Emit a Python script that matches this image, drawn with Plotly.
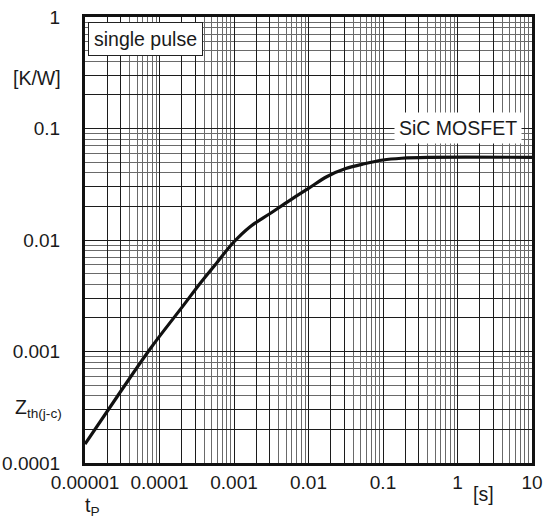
import plotly.graph_objects as go

# Transient thermal impedance Zth(j-c) of the SiC MOSFET, single pulse
pulse_time_s = [1e-5, 2.71e-5, 7.6e-5, 2.12e-4, 3.48e-4, 5.82e-4, 9.73e-4,
                1.63e-3, 3.02e-3, 5.62e-3, 0.01, 0.0178, 0.0316, 0.0562,
                0.1, 0.178, 0.398, 10]
zth_kw = [1.48e-4, 3.95e-4, 1.07e-3, 2.62e-3, 4.06e-3, 6.20e-3, 9.45e-3,
          0.0131, 0.0172, 0.0227, 0.0290, 0.0371, 0.0437, 0.0483,
          0.0522, 0.0541, 0.0551, 0.0551]

x_tick_vals = [1e-5, 1e-4, 1e-3, 1e-2, 1e-1, 1, 10]
x_tick_text = ["0.00001", "0.0001", "0.001", "0.01", "0.1", "1", "10"]
y_tick_vals = [1e-4, 1e-3, 1e-2, 1e-1, 1]
y_tick_text = ["0.0001", "0.001", "0.01", "0.1", "1"]

FONT = "Liberation Sans, Arial, sans-serif"
W, H = 556, 522
ML, MR, MT, MB = 85, 24, 17, 59
PW, PH = W - ML - MR, H - MT - MB


def with_heavy_lines(vals, text):
    """Decade lines plus the 2x and 3x lines, all drawn dark; only decades labelled."""
    v, t = [], []
    for val, lab in zip(vals, text):
        v.append(val)
        t.append(lab)
        for m in (2, 3):
            if val * m < vals[-1]:
                v.append(val * m)
                t.append("")
    return v, t


def light_lines(lo_exp, hi_exp):
    return [m * 10.0 ** e for e in range(lo_exp, hi_exp) for m in range(4, 10)]


def px(x):
    return (x - ML) / PW


def py(y):
    return (H - MB - y) / PH


fig = go.Figure()
fig.add_trace(go.Scatter(
    x=pulse_time_s, y=zth_kw, mode="lines",
    line=dict(color="#111111", width=3.2, shape="spline", smoothing=1.0),
    showlegend=False, hoverinfo="skip",
))

grid_dark = "#1c1c1c"
grid_light = "#6a6a6a"

xv, xt = with_heavy_lines(x_tick_vals, x_tick_text)
yv, yt = with_heavy_lines(y_tick_vals, y_tick_text)

fig.update_xaxes(
    type="log", range=[-5, 1], automargin=False,
    tickvals=xv, ticktext=xt,
    showgrid=True, gridcolor=grid_dark, gridwidth=1.1,
    minor=dict(tickvals=light_lines(-5, 1), showgrid=True,
               gridcolor=grid_light, gridwidth=1.1),
    showline=True, linecolor="#111111", linewidth=3, mirror=True,
    ticks="", ticklen=0, ticklabelstandoff=0,
    tickfont=dict(family=FONT, size=19, color="#1a1a1a"),
    zeroline=False,
)
fig.update_yaxes(
    type="log", range=[-4, 0], automargin=False,
    tickvals=yv, ticktext=yt,
    showgrid=True, gridcolor=grid_dark, gridwidth=1.1,
    minor=dict(tickvals=light_lines(-4, 0), showgrid=True,
               gridcolor=grid_light, gridwidth=1.1),
    showline=True, linecolor="#111111", linewidth=3, mirror=True,
    ticks="", ticklen=0, ticklabelstandoff=18,
    tickfont=dict(family=FONT, size=19, color="#1a1a1a"),
    zeroline=False,
)

txt = dict(family=FONT, size=19.5, color="#1a1a1a")
annotations = [
    dict(text="single pulse", x=px(88), y=py(22), xanchor="left", yanchor="top",
         bgcolor="white", bordercolor="#222222", borderwidth=1, borderpad=5),
    dict(text="SiC MOSFET", x=px(457.5), y=py(128), xanchor="center", yanchor="middle",
         bgcolor="white", borderpad=4),
    dict(text="[K/W]", x=px(37), y=py(78), xanchor="center", yanchor="middle"),
    dict(text="Z<sub>th(j-c)</sub>", x=px(38), y=py(408), xanchor="center", yanchor="middle"),
    dict(text="t<sub>P</sub>", x=px(92), y=py(506), xanchor="center", yanchor="middle"),
    dict(text="[s]", x=px(483), y=py(494), xanchor="center", yanchor="middle"),
]
for a in annotations:
    a.update(xref="paper", yref="paper", showarrow=False, font=txt)

fig.update_layout(
    width=W, height=H,
    margin=dict(l=ML, r=MR, t=MT, b=MB),
    paper_bgcolor="white", plot_bgcolor="white",
    annotations=annotations,
    font=dict(family=FONT),
)

fig.write_html("out.html")
